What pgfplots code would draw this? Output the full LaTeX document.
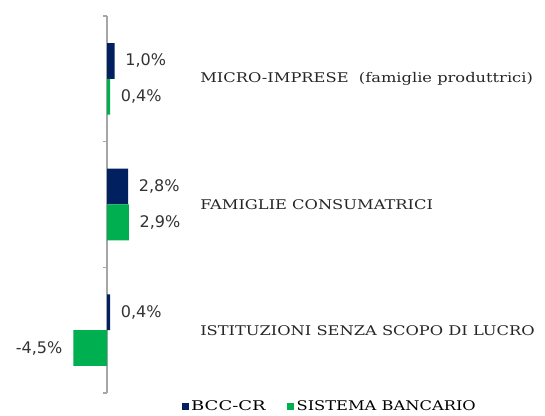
\documentclass[border=0pt]{standalone}
\usepackage{pgfplots}
\pgfplotsset{compat=1.18}
\usepackage{fontspec}
\setmainfont{DejaVu Serif}
\newfontfamily\lblfont{DejaVu Sans}
\definecolor{bcc}{HTML}{002060}
\definecolor{sis}{HTML}{00B050}
\definecolor{axgray}{HTML}{A6A6A6}
\newcommand{\wide}[1]{\scalebox{1.22}[1]{#1}}
\begin{document}
\begin{tikzpicture}[x=0.75pt,y=0.75pt]
\begin{axis}[
  at={(40.875pt,17.25pt)}, anchor=south west,
  scale only axis, width=360pt, height=282.75pt,
  xmin=-7, xmax=57, ymin=-0.5, ymax=2.5,
  axis lines=none,
  clip=false,
  bar width=0.285, bar shift=0pt,
  point meta=x,
  /pgf/number format/assume math mode=true,
  nodes near coords={\pgfmathprintnumber[fixed,fixed zerofill,precision=1,use comma]{\pgfplotspointmeta}\%},
  nodes near coords align=horizontal,
  every node near coord/.append style={font=\lblfont\fontsize{12}{14}\selectfont, text=black!80, inner xsep=8pt},
  legend style={draw=none, at={(0.574,-0.035)}, anchor=center, font=\fontsize{10}{12}\selectfont, legend columns=2,
    /tikz/every even column/.append style={column sep=14pt}},
  legend image code/.code={\fill[#1] (0pt,-2.6pt) rectangle (5.2pt,2.6pt);},
]
\draw[axgray, line width=0.9pt] (axis cs:0,-0.5) -- (axis cs:0,2.5);
\draw[axgray, line width=0.9pt] (axis cs:0,-0.5) -- ++(-3pt,0pt);
\draw[axgray, line width=0.9pt] (axis cs:0,0.5) -- ++(-3pt,0pt);
\draw[axgray, line width=0.9pt] (axis cs:0,1.5) -- ++(-3pt,0pt);
\draw[axgray, line width=0.9pt] (axis cs:0,2.5) -- ++(-3pt,0pt);
\addplot[xbar, fill=bcc, draw=none] coordinates {(1.0,2.1425) (2.8,1.1425) (0.4,0.1425)};
\addplot[xbar, fill=sis, draw=none] coordinates {(0.4,1.8575) (2.9,0.8575) (-4.5,-0.1425)};
\legend{\scalebox{1.35}[1]{BCC-CR}, \wide{SISTEMA BANCARIO}}
\node[anchor=west, inner sep=0, font=\fontsize{10}{12}\selectfont, text=black!85] at (axis cs:12.4,2) {\wide{MICRO-IMPRESE\ \ (famiglie produttrici)}};
\node[anchor=west, inner sep=0, font=\fontsize{10}{12}\selectfont, text=black!85] at (axis cs:12.4,1) {\wide{FAMIGLIE CONSUMATRICI}};
\node[anchor=west, inner sep=0, font=\fontsize{10}{12}\selectfont, text=black!85] at (axis cs:12.4,0) {\wide{ISTITUZIONI SENZA SCOPO DI LUCRO}};
\end{axis}
\pgfresetboundingbox
\path[use as bounding box] (0,0) rectangle (545,416);
\end{tikzpicture}
\end{document}
